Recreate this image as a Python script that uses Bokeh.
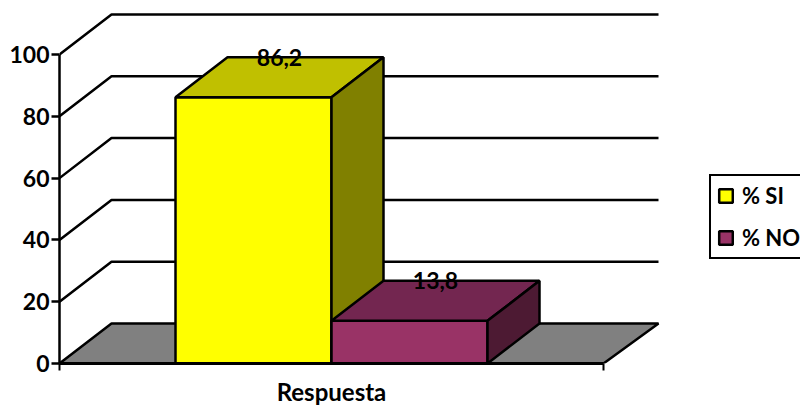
from bokeh.plotting import figure
from bokeh.models import LinearAxis, FixedTicker, Range1d, Legend, LegendItem
from bokeh.core.properties import value
from bokeh.embed import file_html
from bokeh.resources import INLINE

categories = ["Respuesta"]
series_names = ["% SI", "% NO"]
si_values = [86.2]
no_values = [13.8]
value_labels = ["86,2", "13,8"]
y_ticks = [0, 20, 40, 60, 80, 100]

FONT = "Lato"
PX_Y = 3.09          # pixels per value unit
PX_X = 544.0         # pixels per category
DX = 52 / PX_X       # 3D depth in data units
DY = 40 / PX_Y
GAP = 116 / PX_X
BW = 156 / PX_X
LW = 2.5
BACK_END = 1 + 55 / PX_X

p = figure(width=800, height=405, frame_width=741, frame_height=363,
           output_backend="svg", toolbar_location=None,
           x_range=Range1d(0, 741 / PX_X), y_range=Range1d(0, 363 / PX_Y),
           x_axis_type=None, y_axis_type=None,
           min_border_left=59, min_border_right=0, min_border_top=0, min_border_bottom=0,
           outline_line_color=None, background_fill_color="white", border_fill_color="white")
p.grid.visible = False

LC = "black"
# floor
p.patch([0, DX, BACK_END, 1], [0, DY, DY, 0], fill_color="#808080", line_color=LC, line_width=LW)
# walls / grid
for t in y_ticks[1:]:
    p.line([0, DX, BACK_END], [t, t + DY, t + DY], line_color=LC, line_width=LW)


def box(x0, v, front, top, side):
    x1 = x0 + BW
    f = p.patch([x0, x1, x1, x0], [0, 0, v, v], fill_color=front, line_color=LC, line_width=LW)
    p.patch([x0, x1, x1 + DX, x0 + DX], [v, v, v + DY, v + DY], fill_color=top, line_color=LC, line_width=LW)
    p.patch([x1, x1 + DX, x1 + DX, x1], [0, DY, v + DY, v], fill_color=side, line_color=LC, line_width=LW)
    return f


r_si = box(GAP, si_values[0], "#FFFF00", "#C0C000", "#808000")
r_no = box(GAP + BW, no_values[0], "#993366", "#732650", "#4D1A33")

p.text([GAP + BW / 2 + DX * 0.5, GAP + BW * 1.5 + DX * 0.5],
       [si_values[0] + DY, no_values[0] + DY],
       text=value_labels, text_align="center", text_baseline="middle",
       text_font=value(FONT), text_font_style="bold", text_font_size="23px", text_color="black")

# axes
ya = LinearAxis(ticker=FixedTicker(ticks=y_ticks), bounds=(0, 100))
ya.axis_line_width = LW
ya.major_tick_line_width = LW
ya.major_tick_out = 8
ya.major_tick_in = 0
ya.minor_tick_line_color = None
ya.major_label_standoff = 2
ya.major_label_text_font = FONT
ya.major_label_text_font_style = "bold"
ya.major_label_text_font_size = "23px"
ya.major_label_text_color = "black"
p.add_layout(ya, "left")

xa = LinearAxis(ticker=FixedTicker(ticks=[0, 1]), bounds=(0, 1),
                major_label_overrides={0: "", 1: ""})
xa.axis_line_width = 3
xa.major_tick_line_width = 2
xa.major_tick_out = 7
xa.major_tick_in = 0
xa.minor_tick_line_color = None
xa.major_label_text_font_size = "1px"
xa.major_label_standoff = 0
p.add_layout(xa, "below")

xb = LinearAxis(ticker=FixedTicker(ticks=[0.5]),
                major_label_overrides={0.5: categories[0]})
xb.axis_line_color = None
xb.major_tick_line_color = None
xb.minor_tick_line_color = None
xb.major_tick_out = 0
xb.major_tick_in = 0
xb.major_label_standoff = 6
xb.major_label_text_font = FONT
xb.major_label_text_font_style = "bold"
xb.major_label_text_font_size = "24px"
xb.major_label_text_color = "black"
p.add_layout(xb, "below")

legend = Legend(items=[LegendItem(label=series_names[0], renderers=[r_si]),
                       LegendItem(label=series_names[1], renderers=[r_no])],
                location=(650, 104), orientation="vertical",
                border_line_color="black", border_line_width=2.5, border_line_alpha=1,
                background_fill_color="white", background_fill_alpha=1,
                label_text_font=FONT, label_text_font_style="bold",
                label_text_font_size="22px", label_text_color="black",
                glyph_width=17, glyph_height=17, spacing=15, padding=6,
                margin=0, label_standoff=8, label_width=70)
p.add_layout(legend, "center")

open("out.html", "w").write(file_html(p, INLINE))
